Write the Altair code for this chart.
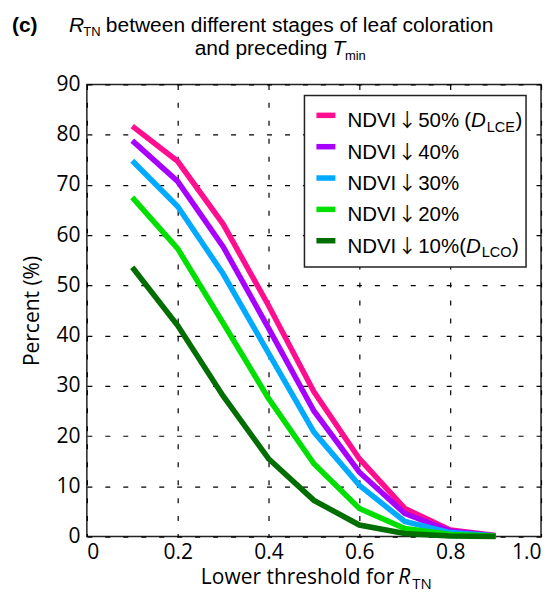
import altair as alt
import pandas as pd

# ---------------- data ----------------
thresholds = [0.1, 0.2, 0.3, 0.4, 0.5, 0.6, 0.7, 0.8, 0.9]
ndvi50 = [81.7, 74.7, 62.2, 46.0, 28.8, 15.5, 5.6, 1.3, 0.2]
ndvi40 = [78.8, 70.7, 57.7, 41.5, 25.0, 12.8, 4.6, 1.1, 0.1]
ndvi30 = [74.8, 65.7, 52.3, 36.5, 20.8, 10.2, 3.0, 0.8, 0.1]
ndvi20 = [67.5, 57.3, 42.5, 27.5, 14.5, 5.6, 1.6, 0.4, 0.1]
ndvi10 = [53.6, 42.0, 28.0, 15.5, 7.2, 2.3, 0.6, 0.1, 0.0]

series_names = ["50%", "40%", "30%", "20%", "10%"]
series_values = [ndvi50, ndvi40, ndvi30, ndvi20, ndvi10]
series_colors = ["#FF0F8F", "#A800FF", "#00AAFF", "#00E000", "#006E00"]
legend_sub = ["LCE", None, None, None, "LCO"]

x_ticks = [0, 0.2, 0.4, 0.6, 0.8, 1.0]
y_ticks = [0, 10, 20, 30, 40, 50, 60, 70, 80, 90]

rows = []
for name, vals in zip(series_names, series_values):
    for t, v in zip(thresholds, vals):
        rows.append({"threshold": t, "percent": v, "series": name})
df = pd.DataFrame(rows)
anchor = pd.DataFrame({"k": [0]})

# ---------------- layout constants ----------------
OX, OY = 87, 84          # page position of plot origin
W, H = 455, 453
TFONT = "Liberation Sans"
AFONT = "Open Sans"
ARROWFONT = "Noto Sans CJK SC"


def txt(s, x, y, size, font=TFONT, style="normal", weight="normal", align="left"):
    return alt.Chart(anchor).mark_text(
        text=s, fontSize=size, font=font, fontStyle=style, fontWeight=weight,
        align=align, baseline="alphabetic", color="black"
    ).encode(x=alt.value(x - OX), y=alt.value(y - OY))


xscale = alt.Scale(domain=[0, 1])
yscale = alt.Scale(domain=[0, 90])

layers = []
for i, (name, color) in enumerate(zip(series_names, series_colors)):
    enc = dict(
        x=alt.X("threshold:Q", scale=xscale,
                axis=alt.Axis(values=x_ticks, title=None,
                              labelExpr="datum.value == 0 ? '0' : format(datum.value, '.1f')")),
        y=alt.Y("percent:Q", scale=yscale,
                axis=alt.Axis(values=y_ticks, title="Percent (%)")),
    )
    layers.append(
        alt.Chart(df[df.series == name]).mark_line(
            color=color, strokeWidth=5.5, strokeJoin="miter", strokeCap="butt"
        ).encode(**enc)
    )

# legend box
layers.append(
    alt.Chart(anchor).mark_rect(fill="white", stroke="#222", strokeWidth=1.5).encode(
        x=alt.value(305 - OX), x2=alt.value(527 - OX),
        y=alt.value(95 - OY), y2=alt.value(267 - OY)
    )
)

LSIZE, LSUB = 20.5, 14.5
for i, (name, color) in enumerate(zip(series_names, series_colors)):
    base = 127 + 31.4 * i
    sw_y = base - 12
    layers.append(
        alt.Chart(anchor).mark_rule(color=color, strokeWidth=5.5).encode(
            x=alt.value(317 - OX), x2=alt.value(336 - OX),
            y=alt.value(sw_y - OY), y2=alt.value(sw_y - OY)
        )
    )
    layers.append(txt("NDVI", 348, base, LSIZE))
    layers.append(txt("\u2193", 408, base, 19, font=ARROWFONT, align="center"))
    layers.append(txt(name, 419, base, LSIZE))
    sub = legend_sub[i]
    if sub is not None:
        xp = 465 if i == 0 else 460
        layers.append(txt("(", xp, base, LSIZE))
        xd = xp + 333 * LSIZE / 1000
        layers.append(txt("D", xd, base, LSIZE, style="italic"))
        xs = xd + 722 * LSIZE / 1000 + 1
        layers.append(txt(sub, xs, base + 4.5, LSUB))
        subw = (556 + 722 + (667 if sub == "LCE" else 778)) * LSUB / 1000
        layers.append(txt(")", xs + subw + 0.5, base, LSIZE))

# title
TS, TSUB = 21, 13
layers.append(txt("(c)", 12, 32, TS, weight="bold"))
layers.append(txt("R", 69, 32, TS, style="italic"))
layers.append(txt("TN", 83.5, 36, TSUB))
layers.append(txt("between different stages of leaf coloration", 106, 32, TS))
layers.append(txt("and preceding", 195, 55, TS))
layers.append(txt("T", 333, 55, TS, style="italic"))
layers.append(txt("min", 345.5, 60, TSUB))

# x axis title
layers.append(txt("Lower threshold for", 395, 585, 21, font=AFONT, align="right"))
layers.append(txt("R", 399, 585, 21, font=AFONT, style="italic"))
layers.append(txt("TN", 413, 590, 15, font=AFONT))

chart = alt.layer(*layers).properties(
    width=W, height=H,
    padding={"left": OX - 8, "top": OY - 8, "right": 10, "bottom": 57},
    autosize=alt.AutoSizeParams(type="none"),
).configure_view(
    stroke="#222", strokeWidth=1.5
).configure_axis(
    domain=False, ticks=False, grid=True,
    gridColor="black", gridDash=[5, 13], gridWidth=1.2, gridOpacity=1,
    labelFont=AFONT, labelFontSize=21, labelColor="black",
    titleFont=AFONT, titleFontSize=21, titleColor="black", titleFontWeight="normal",
).configure_axisY(
    labelPadding=7, titlePadding=13
).configure_axisX(
    labelPadding=5
)

chart.save("out.html", embed_options={"renderer": "svg", "actions": False})
